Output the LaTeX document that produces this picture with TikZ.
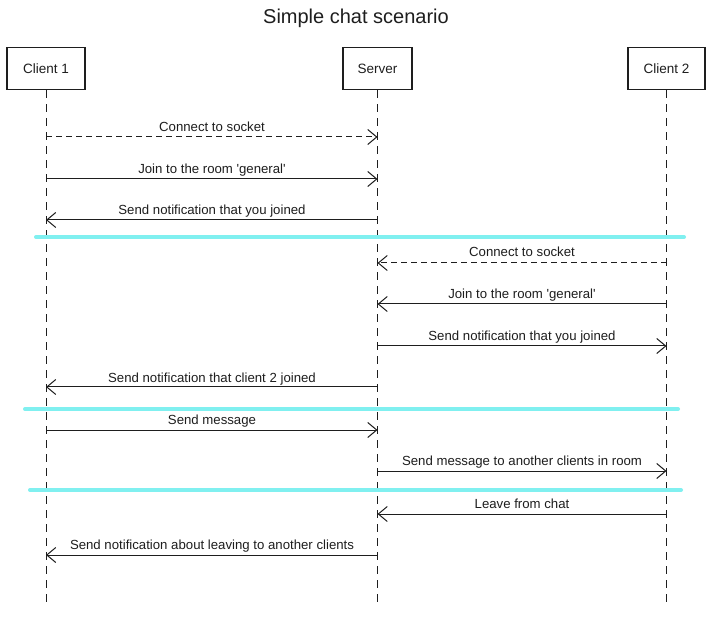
\documentclass[tikz,border=0pt]{standalone}
\usepackage{fontspec}
\setmainfont{Liberation Sans}
\usetikzlibrary{arrows.meta}
\definecolor{sep}{RGB}{128,240,240}
\definecolor{ink}{RGB}{30,30,30}
\tikzset{
  actor/.style={draw=ink, line width=1.4pt, minimum height=42pt, inner sep=0pt, font=\fontsize{13.5}{15}\selectfont, text=ink},
  lifeline/.style={draw=ink, line width=1pt, dash pattern=on 8pt off 6pt},
  msgline/.style={draw=ink, line width=1pt, -{Straight Barb[length=9pt,width=15pt,line width=1pt]}},
  reply/.style={msgline, dash pattern=on 6pt off 4pt},
  lbl/.style={anchor=base, font=\fontsize{13.2}{15}\selectfont, text=ink, inner sep=0pt, yshift=-1pt},
  sepline/.style={draw=sep, line width=4pt, line cap=round}
}
\begin{document}
\begin{tikzpicture}[x=1pt,y=-1pt]
\useasboundingbox[fill=white] (0,0) rectangle (712,617);
\node[anchor=base, font=\fontsize{20}{23}\selectfont, text=ink] (title) at (356,24) {Simple chat scenario};
\node[actor, minimum width=78pt] (c1) at (46,68.5) {Client 1};
\node[actor, minimum width=69pt] (srv) at (377.5,68.5) {Server};
\node[actor, minimum width=77pt] (c2) at (666.5,68.5) {Client 2};
\coordinate (c1end) at (c1.south |- 0,607);
\coordinate (srvend) at (srv.south |- 0,607);
\coordinate (c2end) at (c2.south |- 0,607);
\draw[lifeline] (c1.south) -- (c1end);
\draw[lifeline] (srv.south) -- (srvend);
\draw[lifeline] (c2.south) -- (c2end);
% separators
\coordinate (s1a) at (36,237); \coordinate (s1b) at (684,237);
\coordinate (s2a) at (25,409); \coordinate (s2b) at (678,409);
\coordinate (s3a) at (30,490); \coordinate (s3b) at (681,490);
\draw[sepline] (s1a) -- (s1b);
\draw[sepline] (s2a) -- (s2b);
\draw[sepline] (s3a) -- (s3b);
% messages
\draw[reply] (c1 |- 0,137) -- (srv |- 0,137);
\node[lbl] (l1) at (212,130.5) {Connect to socket};
\draw[msgline] (c1 |- 0,179) -- (srv |- 0,179);
\node[lbl] (l2) at (212,172.5) {Join to the room \textquotesingle general\textquotesingle};
\draw[msgline] (srv |- 0,220) -- (c1 |- 0,220);
\node[lbl] (l3) at (212,214) {Send notification that you joined};
\draw[reply] (c2 |- 0,263) -- (srv |- 0,263);
\node[lbl] (l4) at (522,256) {Connect to socket};
\draw[msgline] (c2 |- 0,304) -- (srv |- 0,304);
\node[lbl] (l5) at (522,297.5) {Join to the room \textquotesingle general\textquotesingle};
\draw[msgline] (srv |- 0,346) -- (c2 |- 0,346);
\node[lbl] (l6) at (522,339.5) {Send notification that you joined};
\draw[msgline] (srv |- 0,387) -- (c1 |- 0,387);
\node[lbl] (l7) at (212,381) {Send notification that client 2 joined};
\draw[msgline] (c1 |- 0,430) -- (srv |- 0,430);
\node[lbl] (l8) at (212,423) {Send message};
\draw[msgline] (srv |- 0,471) -- (c2 |- 0,471);
\node[lbl] (l9) at (522,464.5) {Send message to another clients in room};
\draw[msgline] (c2 |- 0,514) -- (srv |- 0,514);
\node[lbl] (l10) at (522,507) {Leave from chat};
\draw[msgline] (srv |- 0,555) -- (c1 |- 0,555);
\node[lbl] (l11) at (212,548) {Send notification about leaving to another clients};
\end{tikzpicture}
\end{document}
